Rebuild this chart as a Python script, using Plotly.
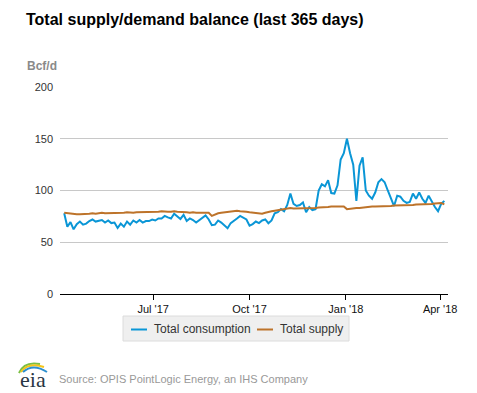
import pandas as pd
import plotly.graph_objects as go

# ---------------- data ----------------
start_date = "2017-04-07"
step_days = 3

consumption = [
    78, 65, 69.5, 62.5, 67.5, 70, 67, 68, 70.5, 72,
    70, 71, 71.5, 69, 71, 68.5, 69, 63.8, 68, 65,
    70, 67, 71, 69, 71.5, 69, 70.5, 70.5, 72, 71,
    73, 73, 75.5, 74, 73, 77.5, 74.5, 72.5, 76.5, 70.5,
    73, 71.5, 69, 71.5, 74, 76, 72, 66.5, 67, 71,
    69, 66.5, 63.5, 68.5, 70.5, 73, 75.5, 73.5, 72, 66,
    67.5, 70, 68.5, 71, 72, 68.4, 71, 78, 79, 82,
    80, 86, 97, 87, 85, 86, 88.5, 79, 84, 81,
    82, 100, 106, 104, 110, 97.5, 97, 105, 130, 136,
    150, 136, 125, 90, 124, 132, 100, 95, 92, 98,
    108, 111, 108, 100, 92, 85, 95, 94, 90, 88,
    89, 97, 92, 98, 92, 88, 95, 89, 84, 80,
    87, 90,
]

supply = [
    78.5, 78, 78, 77.5, 77, 77, 77, 77.5, 77.5, 78,
    77.5, 78, 78.5, 78, 78, 78.5, 78, 78, 78.5, 78.5,
    79, 78.5, 78.5, 79, 79, 79.5, 79, 79, 79.5, 79,
    79.5, 80, 79.5, 79.5, 79.5, 80, 79.5, 79.5, 79, 79,
    78.5, 79, 78.5, 78.5, 78.5, 79, 78.5, 75.5, 77, 78,
    78.5, 79, 79, 79.5, 80, 80.5, 80, 80, 79.5, 79,
    78.5, 78, 77.5, 77.5, 78.5, 79.5, 80, 80.5, 81, 82,
    82.5, 83, 83, 82.5, 82.5, 82.5, 83, 83, 82.5, 83,
    83, 83.5, 83.5, 84, 84, 84.5, 84.5, 85, 85, 84.5,
    82, 82.5, 82.5, 83, 83, 83.5, 84, 84, 84.5, 84.5,
    84.5, 85, 85, 85, 85, 85.5, 85.5, 85.5, 86, 86,
    86, 86, 86.5, 86.5, 86.5, 87, 87, 87, 87.5, 87.5,
    88, 86.5,
]

tick_dates = ["2017-07-01", "2017-10-01", "2018-01-01", "2018-04-01"]
tick_labels = ["Jul '17", "Oct '17", "Jan '18", "Apr '18"]
y_ticks = [0, 50, 100, 150, 200]

series_names = ["Total consumption", "Total supply"]
series_colors = ["#0a96d6", "#bd732a"]

dates = pd.date_range(start_date, periods=len(consumption), freq=f"{step_days}D")

# ---------------- styling ----------------
OFF = 8                     # page body margin in the browser
W, H = 477 - OFF, 393 - OFF
ML, MR, MT, MB = 52, 29, 79, 99
PW, PH = W - ML - MR, H - MT - MB
FONT = "Liberation Sans, Arial, sans-serif"


def px(x):
    """reference screen x -> paper x"""
    return (x - OFF - ML) / PW


def py(y):
    """reference screen y -> paper y"""
    return (H - MB - (y - OFF)) / PH


fig = go.Figure()
for name, vals, col in zip(series_names, [consumption, supply], series_colors):
    fig.add_trace(go.Scatter(x=dates, y=vals, mode="lines", name=name,
                             line=dict(color=col, width=2), showlegend=False))

fig.update_layout(
    width=W, height=H,
    margin=dict(l=ML, r=MR, t=MT, b=MB, autoexpand=False),
    paper_bgcolor="white", plot_bgcolor="white",
    font=dict(family=FONT, size=11, color="#333"),
    title=dict(text="<b>Total supply/demand balance (last 365 days)</b>",
               x=(26 - OFF) / W, xanchor="left", y=1 - 11 / H, yanchor="middle",
               font=dict(family=FONT, size=16, color="#000")),
    xaxis=dict(type="date", range=["2017-04-03", "2018-04-08 12:00"],
               showgrid=False, zeroline=False,
               showline=True, linecolor="#000", linewidth=1,
               ticks="outside", ticklen=5, tickcolor="#000", tickwidth=1,
               tickvals=tick_dates, ticktext=tick_labels,
               tickfont=dict(family=FONT, size=11, color="#111")),
    yaxis=dict(range=[0, 200], tickvals=y_ticks, showgrid=True, gridcolor="#c8c8c8",
               gridwidth=1, zeroline=False, showline=False, ticks="",
               ticklabelstandoff=6,
               tickfont=dict(family=FONT, size=11, color="#333")),
)

# custom legend box (matches reference's compact swatches)
fig.add_shape(type="rect", xref="paper", yref="paper",
              x0=px(123), x1=px(349), y0=py(341), y1=py(316),
              fillcolor="#efefef", line=dict(color="#dcdcdc", width=1), layer="below")
legend_items = [(131, 152), (257, 278)]
for (sx, tx), name, col in zip(legend_items, series_names, series_colors):
    fig.add_shape(type="line", xref="paper", yref="paper",
                  x0=px(sx), x1=px(sx + 16), y0=py(329.5), y1=py(329.5),
                  line=dict(color=col, width=2))
    fig.add_annotation(text=name, x=px(tx), y=py(329), xref="paper", yref="paper",
                       xanchor="left", yanchor="middle", showarrow=False,
                       font=dict(family=FONT, size=12, color="#333"))

# unit label
fig.add_annotation(text="<b>Bcf/d</b>", x=px(25), y=py(66), xref="paper", yref="paper",
                   xanchor="left", yanchor="middle", showarrow=False,
                   font=dict(family=FONT, size=12, color="#8a8a8a"))

# source line
fig.add_annotation(text="Source: OPIS PointLogic Energy, an IHS Company",
                   x=px(57), y=py(379), xref="paper", yref="paper",
                   xanchor="left", yanchor="middle", showarrow=False,
                   font=dict(family=FONT, size=11, color="#999"))

# eia logo: text + arcs
fig.add_annotation(text="eia", x=px(32.5), y=py(379), xref="paper", yref="paper",
                   xanchor="center", yanchor="middle", showarrow=False,
                   font=dict(family="Liberation Serif, DejaVu Serif, serif", size=22, color="#2a3644"))


def arc(x0, y0, cx, cy, x1, y1, color, w):
    fig.add_shape(type="path", xref="paper", yref="paper",
                  path=f"M {px(x0)},{py(y0)} Q {px(cx)},{py(cy)} {px(x1)},{py(y1)}",
                  line=dict(color=color, width=w))


arc(19, 373, 24, 361, 40, 364, "#7bbf43", 2)
arc(21, 372, 28, 362, 44, 367, "#f4c51a", 2)
arc(23, 372, 33, 363, 47, 372, "#2c8fcf", 2)

fig.write_html("out.html")
